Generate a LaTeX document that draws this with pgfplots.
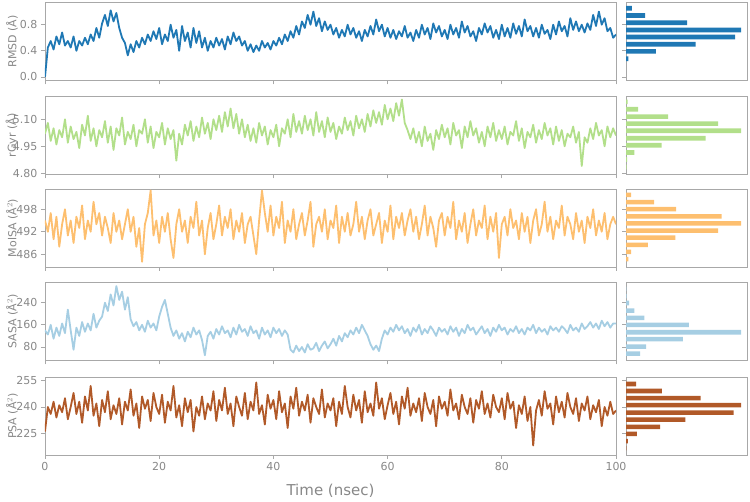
\documentclass[border=0pt]{standalone}
\usepackage{fontspec}
\setmainfont{DejaVu Sans}
\usepackage{pgfplots}
\pgfplotsset{compat=1.18}

\definecolor{cRMSD}{HTML}{1F78B4}
\definecolor{cGyr}{HTML}{B2DF8A}
\definecolor{cMol}{HTML}{FDBF6F}
\definecolor{cSASA}{HTML}{A6CEE3}
\definecolor{cPSA}{HTML}{B15928}
\definecolor{framegray}{HTML}{A8A8A8}
\definecolor{textgray}{HTML}{888888}

\pgfplotsset{
  base/.style={
    scale only axis, anchor=north west,
    axis line style={color=framegray, line width=0.8pt},
    every tick/.style={color=framegray, line width=0.8pt},
    tick align=outside, major tick length=4pt,
    tick label style={color=textgray, font=\fontsize{11}{13}\selectfont},
    /pgf/number format/assume math mode=true,
    height=78pt,
  },
  ts/.style={base, width=571pt, xmin=0, xmax=100,
    xtick={0,20,40,60,80,100}, xticklabels={}, xtick pos=bottom, ytick pos=left,
    ylabel style={at={(axis description cs:-0.058,0.5)}, anchor=center,
      color=textgray, font=\fontsize{11}{13}\selectfont},
  },
  hs/.style={base, width=121pt, xmin=0, xmax=105,
    xtick=\empty, ytick pos=left, yticklabels={}},
  ln/.style={line width=1.8pt, line join=round},
}

\begin{document}
\begin{tikzpicture}
\path (0pt,0pt) rectangle (750pt,501pt);

% ---------- RMSD ----------
\begin{axis}[ts, at={(45pt,498.5pt)}, ymin=-0.055, ymax=1.14, ytick={0,0.4,0.8},
  yticklabel style={/pgf/number format/.cd, fixed, fixed zerofill, precision=1},
  ylabel={RMSD (Å)}]
\addplot[ln, cRMSD] coordinates {
(0,0.0) (0.5,0.45) (1,0.55) (1.5,0.42) (2,0.62) (2.5,0.5) (3,0.68) (3.5,0.48) (4,0.55) (4.5,0.45)
(5,0.62) (5.5,0.4) (6,0.55) (6.5,0.48) (7,0.6) (7.5,0.5) (8,0.65) (8.5,0.55) (9,0.75) (9.5,0.6)
(10,0.82) (10.5,0.95) (11,0.78) (11.5,1.02) (12,0.85) (12.5,0.98) (13,0.75) (13.5,0.6) (14,0.52) (14.5,0.33)
(15,0.5) (15.5,0.38) (16,0.55) (16.5,0.45) (17,0.6) (17.5,0.5) (18,0.65) (18.5,0.55) (19,0.7) (19.5,0.58)
(20,0.75) (20.5,0.5) (21,0.65) (21.5,0.55) (22,0.8) (22.5,0.6) (23,0.72) (23.5,0.4) (24,0.78) (24.5,0.55)
(25,0.68) (25.5,0.45) (26,0.75) (26.5,0.52) (27,0.7) (27.5,0.45) (28,0.6) (28.5,0.4) (29,0.55) (29.5,0.45)
(30,0.6) (30.5,0.48) (31,0.58) (31.5,0.42) (32,0.62) (32.5,0.5) (33,0.68) (33.5,0.55) (34,0.62) (34.5,0.48)
(35,0.55) (35.5,0.4) (36,0.5) (36.5,0.38) (37,0.48) (37.5,0.4) (38,0.55) (38.5,0.45) (39,0.52) (39.5,0.42)
(40,0.55) (40.5,0.48) (41,0.6) (41.5,0.5) (42,0.65) (42.5,0.55) (43,0.7) (43.5,0.6) (44,0.78) (44.5,0.65)
(45,0.85) (45.5,0.75) (46,0.95) (46.5,0.8) (47,1.0) (47.5,0.78) (48,0.9) (48.5,0.7) (49,0.85) (49.5,0.72)
(50,0.8) (50.5,0.65) (51,0.75) (51.5,0.6) (52,0.72) (52.5,0.62) (53,0.8) (53.5,0.65) (54,0.75) (54.5,0.6)
(55,0.7) (55.5,0.55) (56,0.72) (56.5,0.62) (57,0.78) (57.5,0.65) (58,0.88) (58.5,0.7) (59,0.8) (59.5,0.62)
(60,0.75) (60.5,0.6) (61,0.72) (61.5,0.58) (62,0.7) (62.5,0.62) (63,0.78) (63.5,0.6) (64,0.68) (64.5,0.55)
(65,0.72) (65.5,0.6) (66,0.8) (66.5,0.65) (67,0.75) (67.5,0.58) (68,0.82) (68.5,0.68) (69,0.78) (69.5,0.62)
(70,0.72) (70.5,0.58) (71,0.8) (71.5,0.65) (72,0.75) (72.5,0.6) (73,0.85) (73.5,0.68) (74,0.78) (74.5,0.62)
(75,0.7) (75.5,0.55) (76,0.75) (76.5,0.65) (77,0.82) (77.5,0.68) (78,0.78) (78.5,0.6) (79,0.72) (79.5,0.58)
(80,0.8) (80.5,0.62) (81,0.75) (81.5,0.6) (82,0.82) (82.5,0.66) (83,0.78) (83.5,0.62) (84,0.88) (84.5,0.7)
(85,0.78) (85.5,0.62) (86,0.75) (86.5,0.6) (87,0.8) (87.5,0.66) (88,0.72) (88.5,0.58) (89,0.8) (89.5,0.65)
(90,0.85) (90.5,0.7) (91,0.78) (91.5,0.62) (92,0.9) (92.5,0.72) (93,0.85) (93.5,0.7) (94,0.8) (94.5,0.68)
(95,0.82) (95.5,0.72) (96,0.95) (96.5,0.78) (97,1.0) (97.5,0.8) (98,0.9) (98.5,0.7) (99,0.75) (99.5,0.6)
(100,0.65)
};
\end{axis}
\begin{axis}[hs, at={(626pt,498.5pt)}, ymin=-0.055, ymax=1.14, ytick={0,0.4,0.8}]
\addplot[xbar, bar width=0.072, fill=cRMSD, draw=none] coordinates {
(5.0,1.052) (16.6,0.942) (53.1,0.831) (100,0.718) (94.7,0.612) (60.4,0.499) (26.0,0.391) (2.0,0.278)
};
\end{axis}

% ---------- rGyr ----------
\begin{axis}[ts, at={(45pt,404.5pt)}, ymin=4.793, ymax=5.227, ytick={4.80,4.95,5.10},
  yticklabel style={/pgf/number format/.cd, fixed, fixed zerofill, precision=2},
  ylabel={rGyr (Å)}]
\addplot[ln, cGyr] coordinates {
(0,5.02) (0.5,5.08) (1,4.98) (1.5,5.05) (2,4.96) (2.5,5.04) (3,5.00) (3.5,5.10) (4,4.97) (4.5,5.06)
(5,4.99) (5.5,5.03) (6,4.94) (6.5,5.07) (7,5.01) (7.5,5.12) (8,4.98) (8.5,5.05) (9,4.95) (9.5,5.04)
(10,5.00) (10.5,5.09) (11,4.97) (11.5,5.06) (12,4.93) (12.5,5.05) (13,5.01) (13.5,5.11) (14,4.96) (14.5,5.03)
(15,4.99) (15.5,5.07) (16,4.95) (16.5,5.04) (17,5.02) (17.5,5.10) (18,4.97) (18.5,5.06) (19,4.94) (19.5,5.03)
(20,5.00) (20.5,5.08) (21,4.96) (21.5,5.05) (22,4.99) (22.5,5.04) (23,4.87) (23.5,5.02) (24,4.96) (24.5,5.07)
(25,5.01) (25.5,5.09) (26,4.98) (26.5,5.06) (27,5.00) (27.5,5.11) (28,5.02) (28.5,5.08) (29,4.99) (29.5,5.10)
(30,5.04) (30.5,5.12) (31,5.03) (31.5,5.14) (32,5.06) (32.5,5.16) (33,5.05) (33.5,5.13) (34,5.02) (34.5,5.10)
(35,5.00) (35.5,5.07) (36,4.98) (36.5,5.05) (37,4.97) (37.5,5.08) (38,5.01) (38.5,5.06) (39,4.96) (39.5,5.04)
(40,5.00) (40.5,5.07) (41,4.95) (41.5,5.05) (42,5.02) (42.5,5.10) (43,5.00) (43.5,5.13) (44,5.03) (44.5,5.09)
(45,5.02) (45.5,5.12) (46,5.04) (46.5,5.10) (47,5.01) (47.5,5.14) (48,5.03) (48.5,5.09) (49,5.00) (49.5,5.11)
(50,5.03) (50.5,5.08) (51,4.99) (51.5,5.06) (52,5.02) (52.5,5.11) (53,5.04) (53.5,5.09) (54,5.01) (54.5,5.12)
(55,5.05) (55.5,5.10) (56,5.03) (56.5,5.13) (57,5.06) (57.5,5.15) (58,5.08) (58.5,5.14) (59,5.07) (59.5,5.18)
(60,5.10) (60.5,5.16) (61,5.09) (61.5,5.19) (62,5.12) (62.5,5.21) (63,5.08) (63.5,5.04) (64,4.99) (64.5,5.05)
(65,4.97) (65.5,5.03) (66,4.95) (66.5,5.06) (67,4.98) (67.5,5.02) (68,4.93) (68.5,5.04) (69,4.99) (69.5,5.07)
(70,5.00) (70.5,5.05) (71,4.96) (71.5,5.08) (72,5.01) (72.5,5.04) (73,4.94) (73.5,5.06) (74,5.00) (74.5,5.09)
(75,5.01) (75.5,5.05) (76,4.97) (76.5,5.03) (77,4.95) (77.5,5.06) (78,5.00) (78.5,5.08) (79,4.98) (79.5,5.04)
(80,4.99) (80.5,5.06) (81,4.96) (81.5,5.03) (82,5.01) (82.5,5.09) (83,4.98) (83.5,5.05) (84,4.94) (84.5,5.03)
(85,5.00) (85.5,5.07) (86,4.97) (86.5,5.04) (87,4.99) (87.5,5.08) (88,5.01) (88.5,5.05) (89,4.96) (89.5,5.06)
(90,4.98) (90.5,5.04) (91,4.95) (91.5,5.02) (92,5.00) (92.5,5.06) (93,4.97) (93.5,5.03) (94,4.84) (94.5,5.00)
(95,4.97) (95.5,5.05) (96,4.99) (96.5,5.08) (97,5.01) (97.5,5.04) (98,4.95) (98.5,5.06) (99,5.00) (99.5,5.05)
(100,5.01)
};
\end{axis}
\begin{axis}[hs, at={(626pt,404.5pt)}, ymin=4.793, ymax=5.227, ytick={4.80,4.95,5.10}]
\addplot[xbar, bar width=0.026, fill=cGyr, draw=none] coordinates {
(1.5,5.197) (10.5,5.156) (36.5,5.115) (79.9,5.076) (100,5.036) (69.1,4.995) (30.9,4.956) (7.3,4.915) (0.9,4.876) (0.5,4.835)
};
\end{axis}

% ---------- MolSA ----------
\begin{axis}[ts, at={(45pt,312pt)}, ymin=482.6, ymax=503.4, ytick={486,492,498},
  ylabel={MolSA (Å$^2$)}]
\addplot[ln, cMol] coordinates {
(0,495) (0.5,492) (1,497) (1.5,490) (2,496) (2.5,488) (3,494) (3.5,498) (4,491) (4.5,495)
(5,489) (5.5,496) (6,493) (6.5,499) (7,490) (7.5,495) (8,492) (8.5,500) (9,494) (9.5,497)
(10,491) (10.5,496) (11,493) (11.5,489) (12,497) (12.5,492) (13,495) (13.5,490) (14,494) (14.5,498)
(15,492) (15.5,496) (16,488) (16.5,493) (17,484) (17.5,494) (18,497) (18.5,503) (19,491) (19.5,495)
(20,489) (20.5,496) (21,492) (21.5,497) (22,490) (22.5,485) (23,494) (23.5,498) (24,492) (24.5,495)
(25,489) (25.5,496) (26,493) (26.5,500) (27,491) (27.5,495) (28,486) (28.5,493) (29,497) (29.5,490)
(30,494) (30.5,499) (31,491) (31.5,496) (32,493) (32.5,498) (33,490) (33.5,495) (34,492) (34.5,497)
(35,489) (35.5,494) (36,496) (36.5,491) (37,486) (37.5,495) (38,503) (38.5,497) (39,492) (39.5,499)
(40,491) (40.5,496) (41,493) (41.5,500) (42,489) (42.5,495) (43,492) (43.5,498) (44,490) (44.5,494)
(45,497) (45.5,491) (46,495) (46.5,500) (47,488) (47.5,494) (48,496) (48.5,492) (49,498) (49.5,490)
(50,495) (50.5,493) (51,499) (51.5,489) (52,496) (52.5,492) (53,497) (53.5,491) (54,494) (54.5,500)
(55,492) (55.5,496) (56,490) (56.5,495) (57,498) (57.5,491) (58,494) (58.5,497) (59,489) (59.5,495)
(60,492) (60.5,499) (61,490) (61.5,496) (62,493) (62.5,497) (63,491) (63.5,495) (64,498) (64.5,492)
(65,496) (65.5,490) (66,494) (66.5,499) (67,491) (67.5,496) (68,493) (68.5,488) (69,495) (69.5,497)
(70,491) (70.5,496) (71,493) (71.5,500) (72,490) (72.5,495) (73,492) (73.5,497) (74,489) (74.5,494)
(75,498) (75.5,491) (76,495) (76.5,493) (77,499) (77.5,490) (78,496) (78.5,492) (79,497) (79.5,485)
(80,494) (80.5,496) (81,491) (81.5,498) (82,493) (82.5,495) (83,490) (83.5,497) (84,492) (84.5,496)
(85,489) (85.5,495) (86,498) (86.5,491) (87,494) (87.5,500) (88,492) (88.5,496) (89,490) (89.5,495)
(90,493) (90.5,499) (91,491) (91.5,496) (92,494) (92.5,490) (93,497) (93.5,492) (94,495) (94.5,489)
(95,496) (95.5,493) (96,498) (96.5,491) (97,495) (97.5,492) (98,497) (98.5,490) (99,494) (99.5,496)
(100,494)
};
\end{axis}
\begin{axis}[hs, at={(626pt,312pt)}, ymin=482.6, ymax=503.4, ytick={486,492,498}]
\addplot[xbar, bar width=1.2, fill=cMol, draw=none] coordinates {
(4.4,501.8) (24.5,499.9) (43.5,498.0) (82.9,496.1) (100,494.2) (79.9,492.3) (42.9,490.4) (19.0,488.5) (4.4,486.6) (2.0,484.7)
};
\end{axis}

% ---------- SASA ----------
\begin{axis}[ts, at={(45pt,218.5pt)}, ymin=31.2, ymax=313, ytick={80,160,240},
  ylabel={SASA (Å$^2$)}]
\addplot[ln, cSASA] coordinates {
(0,140) (0.5,125) (1,160) (1.5,110) (2,150) (2.5,120) (3,165) (3.5,130) (4,215) (4.5,140)
(5,70) (5.5,150) (6,120) (6.5,170) (7,135) (7.5,165) (8,140) (8.5,200) (9,150) (9.5,175)
(10,190) (10.5,240) (11,210) (11.5,270) (12,230) (12.5,300) (13,250) (13.5,280) (14,215) (14.5,260)
(15,180) (15.5,155) (16,170) (16.5,140) (17,160) (17.5,135) (18,175) (18.5,150) (19,165) (19.5,140)
(20,190) (20.5,225) (21,250) (21.5,200) (22,150) (22.5,120) (23,140) (23.5,110) (24,130) (24.5,100)
(25,135) (25.5,115) (26,150) (26.5,125) (27,140) (27.5,105) (28,50) (28.5,120) (29,135) (29.5,110)
(30,145) (30.5,125) (31,155) (31.5,130) (32,140) (32.5,115) (33,150) (33.5,125) (34,160) (34.5,135)
(35,145) (35.5,120) (36,155) (36.5,130) (37,140) (37.5,110) (38,150) (38.5,125) (39,140) (39.5,115)
(40,150) (40.5,130) (41,145) (41.5,120) (42,140) (42.5,125) (43,70) (43.5,60) (44,85) (44.5,65)
(45,80) (45.5,60) (46,90) (46.5,70) (47,75) (47.5,95) (48,65) (48.5,85) (49,100) (49.5,75)
(50,90) (50.5,110) (51,85) (51.5,120) (52,100) (52.5,130) (53,115) (53.5,140) (54,125) (54.5,150)
(55,130) (55.5,160) (56,140) (56.5,120) (57,90) (57.5,70) (58,85) (58.5,65) (59,110) (59.5,140)
(60,125) (60.5,150) (61,135) (61.5,160) (62,140) (62.5,155) (63,130) (63.5,145) (64,120) (64.5,150)
(65,135) (65.5,160) (66,125) (66.5,145) (67,130) (67.5,155) (68,140) (68.5,120) (69,150) (69.5,135)
(70,145) (70.5,125) (71,155) (71.5,135) (72,150) (72.5,120) (73,145) (73.5,130) (74,160) (74.5,140)
(75,150) (75.5,125) (76,140) (76.5,155) (77,130) (77.5,145) (78,120) (78.5,150) (79,135) (79.5,160)
(80,140) (80.5,150) (81,125) (81.5,145) (82,135) (82.5,155) (83,130) (83.5,145) (84,125) (84.5,150)
(85,140) (85.5,160) (86,130) (86.5,150) (87,135) (87.5,145) (88,125) (88.5,155) (89,140) (89.5,150)
(90,135) (90.5,155) (91,145) (91.5,130) (92,160) (92.5,140) (93,150) (93.5,135) (94,165) (94.5,145)
(95,155) (95.5,170) (96,150) (96.5,165) (97,145) (97.5,175) (98,155) (98.5,170) (99,150) (99.5,165)
(100,165)
};
\end{axis}
\begin{axis}[hs, at={(626pt,218.5pt)}, ymin=31.2, ymax=313, ytick={80,160,240}]
\addplot[xbar, bar width=16.5, fill=cSASA, draw=none] coordinates {
(12.2,56.2) (17.5,81.4) (49.3,108.1) (100,133.3) (54.5,159.6) (16.0,184.9) (7.3,211.2) (2.6,238.9) (0.5,264) (0.3,290)
};
\end{axis}

% ---------- PSA ----------
\begin{axis}[ts, at={(45pt,124pt)}, ymin=212.6, ymax=257.1, ytick={225,240,255},
  xticklabels={0,20,40,60,80,100},
  ylabel={PSA (Å$^2$)},
  xlabel={Time (nsec)},
  xlabel style={at={(axis description cs:0.5,-0.46)}, anchor=center,
    color=textgray, font=\fontsize{15}{17}\selectfont}]
\addplot[ln, cPSA] coordinates {
(0,226) (0.5,240) (1,236) (1.5,243) (2,234) (2.5,241) (3,237) (3.5,245) (4,233) (4.5,240)
(5,248) (5.5,236) (6,243) (6.5,231) (7,246) (7.5,238) (8,252) (8.5,235) (9,242) (9.5,229)
(10,244) (10.5,237) (11,249) (11.5,233) (12,241) (12.5,236) (13,245) (13.5,230) (14,243) (14.5,238)
(15,250) (15.5,235) (16,242) (16.5,228) (17,246) (17.5,239) (18,244) (18.5,232) (19,248) (19.5,240)
(20,236) (20.5,247) (21,231) (21.5,243) (22,238) (22.5,252) (23,234) (23.5,241) (24,229) (24.5,245)
(25,237) (25.5,244) (26,226) (26.5,240) (27,235) (27.5,246) (28,233) (28.5,242) (29,238) (29.5,249)
(30,232) (30.5,244) (31,238) (31.5,251) (32,236) (32.5,242) (33,229) (33.5,246) (34,240) (34.5,235)
(35,248) (35.5,233) (36,243) (36.5,238) (37,254) (37.5,236) (38,241) (38.5,230) (39,247) (39.5,239)
(40,244) (40.5,233) (41,249) (41.5,237) (42,242) (42.5,228) (43,246) (43.5,239) (44,251) (44.5,235)
(45,243) (45.5,238) (46,247) (46.5,231) (47,245) (47.5,240) (48,236) (48.5,250) (49,234) (49.5,242)
(50,238) (50.5,245) (51,229) (51.5,243) (52,236) (52.5,252) (53,240) (53.5,234) (54,247) (54.5,238)
(55,244) (55.5,231) (56,249) (56.5,237) (57,242) (57.5,235) (58,254) (58.5,239) (59,245) (59.5,233)
(60,241) (60.5,248) (61,236) (61.5,243) (62,230) (62.5,246) (63,239) (63.5,251) (64,235) (64.5,242)
(65,237) (65.5,245) (66,232) (66.5,248) (67,240) (67.5,236) (68,244) (68.5,229) (69,246) (69.5,239)
(70,243) (70.5,235) (71,250) (71.5,238) (72,242) (72.5,233) (73,247) (73.5,240) (74,236) (74.5,245)
(75,231) (75.5,244) (76,239) (76.5,249) (77,236) (77.5,242) (78,234) (78.5,247) (79,240) (79.5,237)
(80,245) (80.5,233) (81,248) (81.5,239) (82,243) (82.5,228) (83,241) (83.5,236) (84,246) (84.5,232)
(85,240) (85.5,218) (86,238) (86.5,244) (87,235) (87.5,249) (88,239) (88.5,242) (89,230) (89.5,246)
(90,237) (90.5,243) (91,234) (91.5,248) (92,240) (92.5,236) (93,245) (93.5,232) (94,242) (94.5,238)
(95,246) (95.5,233) (96,241) (96.5,237) (97,244) (97.5,229) (98,240) (98.5,235) (99,243) (99.5,236)
(100,238)
};
\end{axis}
\begin{axis}[hs, at={(626pt,124pt)}, ymin=212.6, ymax=257.1, ytick={225,240,255}]
\addplot[xbar, bar width=2.6, fill=cPSA, draw=none] coordinates {
(8.7,253.1) (31.2,249.1) (64.7,245.0) (100,241.0) (93.3,236.8) (51.6,232.8) (29.5,228.6) (9.4,224.6) (1.7,220.5) (0.4,216.5)
};
\end{axis}
\end{tikzpicture}
\end{document}
